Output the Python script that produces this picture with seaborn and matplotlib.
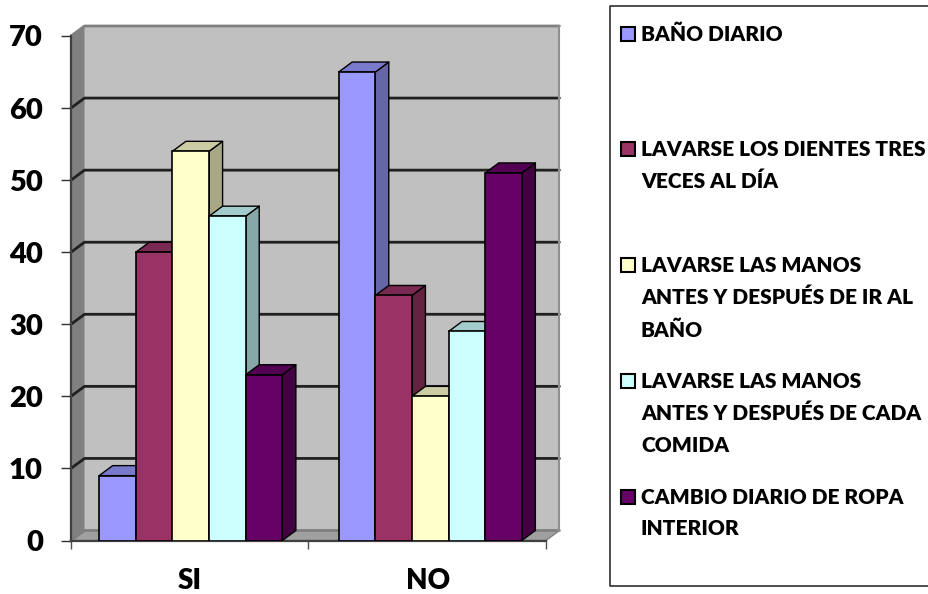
import pandas as pd
import matplotlib
matplotlib.use('Agg')
import matplotlib.pyplot as plt
import seaborn as sns
from matplotlib.patches import Polygon, Rectangle
from matplotlib.colors import to_rgb

# Datos
categorias = ['SI', 'NO']
habitos = ['BAÑO DIARIO',
           'LAVARSE LOS DIENTES TRES\nVECES AL DÍA',
           'LAVARSE LAS MANOS\nANTES Y DESPUÉS DE IR AL\nBAÑO',
           'LAVARSE LAS MANOS\nANTES Y DESPUÉS DE CADA\nCOMIDA',
           'CAMBIO DIARIO DE ROPA\nINTERIOR']
valores_si = [9, 40, 54, 45, 23]
valores_no = [65, 34, 20, 29, 51]
colores = ['#9999FF', '#993366', '#FFFFCC', '#CCFFFF', '#660066']
ticks_y = [0, 10, 20, 30, 40, 50, 60, 70]

filas = []
for h, a, b in zip(habitos, valores_si, valores_no):
    filas.append({'cat': 'SI', 'habito': h, 'valor': a})
    filas.append({'cat': 'NO', 'habito': h, 'valor': b})
df = pd.DataFrame(filas)

sns.set_style('white')
plt.rcParams['font.family'] = ['Lato', 'DejaVu Sans']

fig = plt.figure(figsize=(9.29, 5.94), dpi=100)
ax = fig.add_axes([71 / 929, (594 - 540.5) / 594, 479 / 929, 504.5 / 594])

sns.barplot(data=df, x='cat', y='valor', hue='habito', order=categorias,
            hue_order=habitos, palette=colores, width=0.765, gap=0,
            saturation=1, legend=False, errorbar=None, ax=ax)

ax.set_xlim(-0.5, 1.5)
ax.set_ylim(0, 70)
ax.set_xlabel('')
ax.set_ylabel('')
ax.patch.set_alpha(0)

# profundidad del efecto 3D en unidades de datos (13.5 px, 10 px)
DX = 13.5 / 239.5
DY = 10 / (504.5 / 70)
PESO = 'heavy'


def poly(puntos, color, z, ec='none', lw=0):
    ax.add_patch(Polygon(puntos, closed=True, facecolor=color, edgecolor=ec,
                         linewidth=lw, zorder=z, clip_on=False, joinstyle='round'))


def oscuro(color, f):
    return tuple(c * f for c in to_rgb(color))


x0, x1 = -0.5, 1.483
# paredes y piso
poly([(x0 + DX, DY), (x1 + DX, DY), (x1 + DX, 70 + DY), (x0 + DX, 70 + DY)], '#C0C0C0', 0.5)
poly([(x0, 0), (x0 + DX, DY), (x0 + DX, 70 + DY), (x0, 70)], '#808080', 0.6)
poly([(x0, 0), (x1, 0), (x1 + DX, DY), (x0 + DX, DY)], '#A0A0A0', 0.6, ec='#808080', lw=1)

# lineas de division
for t in ticks_y:
    col = '#808080' if t in (0, 70) else '#202020'
    ax.plot([x0, x0 + DX, x1 + DX], [t, t + DY, t + DY], color=col, lw=2,
            zorder=1, clip_on=False, solid_joinstyle='round')
ax.plot([x1 + DX, x1 + DX], [DY, 70 + DY], color='#909090', lw=1.5, zorder=1, clip_on=False)

# barras con caras laterales, de izquierda a derecha
barras = []
for cont, color in zip(ax.containers, colores):
    for b in cont:
        barras.append((b, color))
barras.sort(key=lambda p: p[0].get_x())

for i, (b, color) in enumerate(barras):
    z = 10 + 2 * i
    izq = b.get_x()
    der = izq + b.get_width()
    alto = b.get_height()
    poly([(der, 0), (der + DX, DY), (der + DX, alto + DY), (der, alto)],
         oscuro(color, 0.66), z - 1, ec='black', lw=1)
    poly([(izq, alto), (der, alto), (der + DX, alto + DY), (izq + DX, alto + DY)],
         oscuro(color, 0.8), z - 1, ec='black', lw=1)
    b.set_edgecolor('black')
    b.set_linewidth(1.2)
    b.set_zorder(z)

# ejes
sns.despine(ax=ax, top=True, right=True)
for s in ('left', 'bottom'):
    ax.spines[s].set_color('#404040')
    ax.spines[s].set_linewidth(1.6)
    ax.spines[s].set_zorder(5)
ax.spines['bottom'].set_bounds(x0, x1)
ax.set_yticks(ticks_y)
ax.set_xticks([x0, 0.49, x1], labels=['', '', ''])
ax.set_xticks([-0.005, 0.99], labels=categorias, minor=True)
ax.tick_params(axis='y', which='major', left=True, length=7.2, width=1, color='#303030', pad=13, labelsize=21)
ax.tick_params(axis='x', which='major', bottom=True, length=6, width=1, color='#505050')
ax.tick_params(axis='x', which='minor', bottom=False, length=0, pad=20, labelsize=20)
for lab in ax.get_yticklabels() + ax.get_xticklabels(minor=True):
    lab.set_fontweight(PESO)
    lab.set_color('black')

# leyenda dibujada aparte porque las entradas no tienen espacio uniforme
leg = fig.add_axes([0, 0, 1, 1])
leg.set_xlim(0, 929)
leg.set_ylim(594, 0)
leg.set_axis_off()
leg.patch.set_alpha(0)
leg.plot([929, 610, 610, 929], [6, 6, 586, 586], color='#303030', lw=1.2, clip_on=False)
y_leyenda = [34, 149, 265, 381, 497]
for h, color, y in zip(habitos, colores, y_leyenda):
    leg.add_patch(Rectangle((621, y - 7), 14, 14, facecolor=color, edgecolor='black', linewidth=1.5))
    leg.text(641, y - 9, h, fontsize=15, fontweight=PESO, color='black',
             va='top', ha='left', linespacing=1.78)

fig.savefig('out.png', dpi=100)
